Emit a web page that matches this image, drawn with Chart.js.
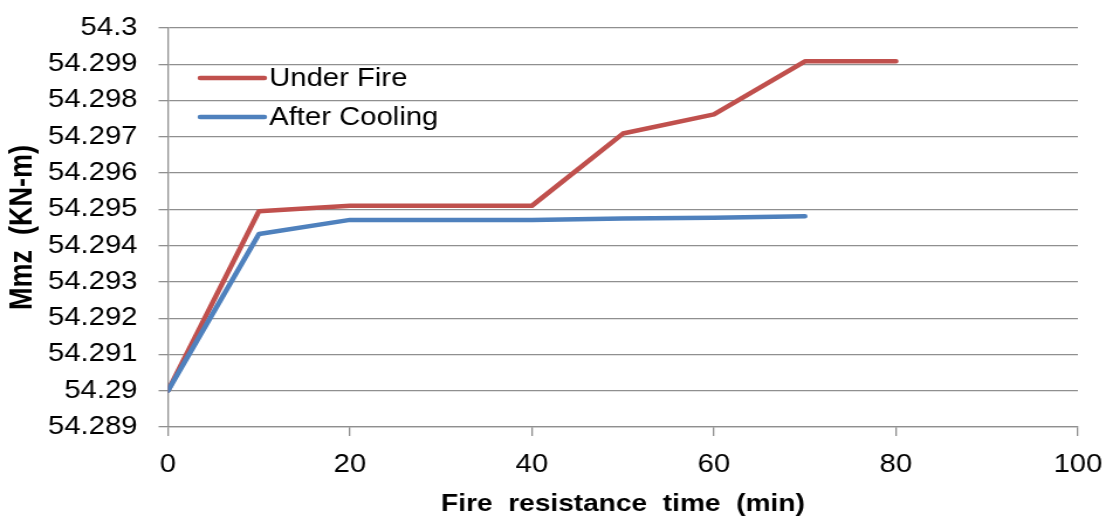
<!DOCTYPE html>
<html>
<head>
<meta charset="utf-8">
<title>Mmz vs fire resistance time</title>
<script src="https://cdn.jsdelivr.net/npm/chart.js@4"></script>
<style>
  html, body { margin: 0; padding: 0; background: #ffffff; }
  #chart { display: block; }
</style>
</head>
<body>
<!-- drawn at 945 px wide and widened to 1106 px for the broad lettering -->
<canvas id="chart" width="945" height="521" style="width:1106px;height:521px"></canvas>
<script>
// Fire resistance time (min)
const timesUnderFire = [0, 10, 20, 30, 40, 50, 60, 70, 80];
const timesAfterCooling = [0, 10, 20, 30, 40, 50, 60, 70];

// Mmz (KN-m)
const underFire = [54.29, 54.29495, 54.2951, 54.2951, 54.2951, 54.29709, 54.29762, 54.29908, 54.29908];
const afterCooling = [54.29, 54.29432, 54.29471, 54.29471, 54.29471, 54.29475, 54.29477, 54.29481];

// axis ticks
const xTickValues = [0, 20, 40, 60, 80, 100];
const xTickLabels = ['0', '20', '40', '60', '80', '100'];
const yTickValues = [54.289, 54.29, 54.291, 54.292, 54.293, 54.294, 54.295, 54.296, 54.297, 54.298, 54.299, 54.3];
const yTickLabels = ['54.289', '54.29', '54.291', '54.292', '54.293', '54.294', '54.295', '54.296', '54.297', '54.298', '54.299', '54.3'];

const seriesNames = ['Under Fire', 'After Cooling'];
const RED = '#C0504D';
const BLUE = '#4F81BD';
const GRID = '#8f8f8f';
const FONT = "'Liberation Sans', Arial, sans-serif";

const toPoints = (xs, ys) => xs.map((x, i) => ({ x: x, y: ys[i] }));

// legend drawn inside the plot, upper left
const innerLegend = {
  id: 'innerLegend',
  afterDatasetsDraw(chart) {
    const ctx = chart.ctx;
    const area = chart.chartArea;
    const rows = [50, 89];
    ctx.save();
    ctx.font = '25px ' + FONT;
    ctx.textBaseline = 'middle';
    ctx.textAlign = 'left';
    chart.data.datasets.forEach((ds, i) => {
      const y = area.top + rows[i];
      const x0 = area.left + 27.5;
      ctx.strokeStyle = ds.borderColor;
      ctx.lineWidth = 4.5;
      ctx.lineCap = 'round';
      ctx.beginPath();
      ctx.moveTo(x0, y);
      ctx.lineTo(x0 + 55, y);
      ctx.stroke();
      ctx.fillStyle = '#000000';
      ctx.fillText(ds.label, x0 + 59, y + 1);
    });
    ctx.restore();
  }
};

new Chart(document.getElementById('chart'), {
  type: 'line',
  data: {
    datasets: [
      {
        label: seriesNames[0],
        data: toPoints(timesUnderFire, underFire),
        borderColor: RED,
        backgroundColor: RED,
        borderWidth: 4.5,
        pointRadius: 0,
        tension: 0,
        borderCapStyle: 'round',
        borderJoinStyle: 'round',
        order: 1
      },
      {
        label: seriesNames[1],
        data: toPoints(timesAfterCooling, afterCooling),
        borderColor: BLUE,
        backgroundColor: BLUE,
        borderWidth: 4.5,
        pointRadius: 0,
        tension: 0,
        borderCapStyle: 'round',
        borderJoinStyle: 'round',
        order: 0
      }
    ]
  },
  options: {
    responsive: false,
    devicePixelRatio: 1,
    animation: false,
    layout: { padding: { top: 28, right: 24, bottom: 0, left: 0 } },
    plugins: {
      legend: { display: false },
      tooltip: { enabled: false }
    },
    scales: {
      x: {
        type: 'linear',
        min: 0,
        max: 100,
        afterBuildTicks(scale) { scale.ticks = xTickValues.map(v => ({ value: v })); },
        afterFit(scale) {
          scale.height = 94;
          scale.paddingLeft = 0;
          scale.paddingRight = 0;
        },
        ticks: {
          callback: (v, i) => xTickLabels[i],
          color: '#000000',
          font: { family: FONT, size: 25 },
          padding: 14,
          maxRotation: 0,
          autoSkip: false
        },
        grid: {
          drawOnChartArea: false,
          drawTicks: true,
          tickLength: 9,
          color: GRID,
          lineWidth: 1.3
        },
        border: { display: true, color: GRID, width: 1.3 },
        title: {
          display: true,
          text: 'Fire  resistance  time  (min)',
          color: '#000000',
          font: { family: FONT, size: 24, weight: 'bold' },
          padding: { top: 2, bottom: 2 }
        }
      },
      y: {
        type: 'linear',
        min: 54.289,
        max: 54.3,
        afterBuildTicks(scale) { scale.ticks = yTickValues.map(v => ({ value: v })); },
        afterFit(scale) {
          scale.width = 143.5;
          scale.paddingTop = 0;
          scale.paddingBottom = 0;
        },
        ticks: {
          callback: (v, i) => yTickLabels[i],
          color: '#000000',
          font: { family: FONT, size: 25 },
          padding: 18,
          autoSkip: false
        },
        grid: {
          drawOnChartArea: true,
          drawTicks: true,
          tickLength: 8,
          color: GRID,
          lineWidth: 1.3
        },
        border: { display: true, color: GRID, width: 1.3 },
        title: {
          display: true,
          text: 'Mmz  (KN-m)',
          color: '#000000',
          font: { family: FONT, size: 27, weight: 'bold' },
          padding: { top: 3, bottom: 3 }
        }
      }
    }
  },
  plugins: [innerLegend]
});
</script>
</body>
</html>
